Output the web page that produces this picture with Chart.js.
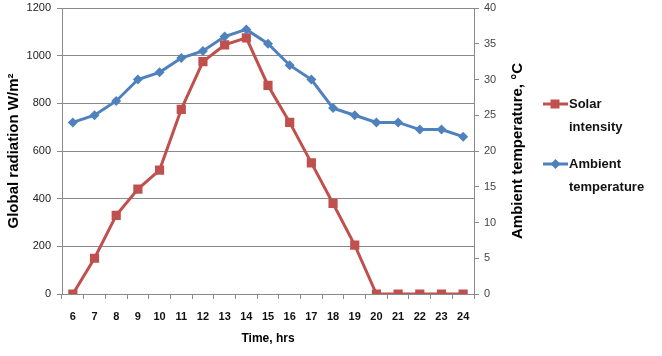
<!DOCTYPE html>
<html>
<head>
<meta charset="utf-8">
<script src="https://cdn.jsdelivr.net/npm/chart.js@4.4.0/dist/chart.umd.min.js"></script>
<style>
html, body { margin: 0; padding: 0; background: #fff; }
#chart { display: block; }
</style>
</head>
<body>
<canvas id="chart" width="662" height="356"></canvas>
<script>
// data
var hours = ['6', '7', '8', '9', '10', '11', '12', '13', '14', '15', '16', '17', '18', '19', '20', '21', '22', '23', '24'];
var solarIntensity = [0, 150, 330, 440, 520, 775, 975, 1045, 1075, 875, 720, 550, 380, 205, 0, 0, 0, 0, 0];
var ambientTemp = [24, 25, 27, 30, 31, 33, 34, 36, 37, 35, 32, 30, 26, 25, 24, 24, 23, 23, 22];
var legendLines = [['Solar', 'intensity'], ['Ambient', 'temperature']];

var RED = '#C0504D';
var BLUE = '#4F81BD';
var GRID = '#8a8a8a';
var FONT = '"Liberation Sans", Arial, sans-serif';

// right axis title (reads bottom to top) and the wrapped legend
var sideText = {
    id: 'sideText',
    afterDraw: function (chart) {
        var ctx = chart.ctx;
        var area = chart.chartArea;
        var r = chart.scales.yRight;

        ctx.save();
        ctx.translate(r.right - 12, (area.top + area.bottom) / 2);
        ctx.rotate(-Math.PI / 2);
        ctx.font = 'bold 15px ' + FONT;
        ctx.fillStyle = '#000';
        ctx.textAlign = 'center';
        ctx.textBaseline = 'middle';
        ctx.fillText('Ambient temperature, \u00B0C', 0, 0);
        ctx.restore();

        var rows = [104, 164];
        chart.data.datasets.forEach(function (ds, i) {
            var y = rows[i];
            ctx.save();
            ctx.strokeStyle = ds.borderColor;
            ctx.lineWidth = 3;
            ctx.beginPath();
            ctx.moveTo(543, y);
            ctx.lineTo(568, y);
            ctx.stroke();
            ctx.fillStyle = ds.pointBackgroundColor;
            ctx.beginPath();
            if (ds.pointStyle === 'rect') {
                ctx.rect(550.5, y - 4.5, 9, 9);
            } else {
                ctx.moveTo(555.5, y - 5);
                ctx.lineTo(560.5, y);
                ctx.lineTo(555.5, y + 5);
                ctx.lineTo(550.5, y);
                ctx.closePath();
            }
            ctx.fill();
            ctx.font = 'bold 13px ' + FONT;
            ctx.fillStyle = '#111';
            ctx.textAlign = 'left';
            ctx.textBaseline = 'middle';
            ctx.fillText(legendLines[i][0], 569, y);
            ctx.fillText(legendLines[i][1], 569, y + 23);
            ctx.restore();
        });
    }
};

var ctx = document.getElementById('chart').getContext('2d');
var chart = new Chart(ctx, {
    type: 'line',
    data: {
        labels: hours,
        datasets: [{
            label: 'Solar intensity',
            data: solarIntensity,
            yAxisID: 'y',
            borderColor: RED,
            backgroundColor: RED,
            pointBackgroundColor: RED,
            pointBorderColor: RED,
            pointStyle: 'rect',
            pointRadius: 6.5,
            pointBorderWidth: 0,
            borderWidth: 3,
            tension: 0,
            order: 2
        }, {
            label: 'Ambient temperature',
            data: ambientTemp,
            yAxisID: 'yRight',
            borderColor: BLUE,
            backgroundColor: BLUE,
            pointBackgroundColor: BLUE,
            pointBorderColor: BLUE,
            pointStyle: 'rectRot',
            pointRadius: 5,
            pointBorderWidth: 0,
            borderWidth: 3,
            tension: 0,
            order: 1
        }]
    },
    options: {
        responsive: false,
        animation: false,
        layout: { padding: { top: 8, right: 132, bottom: 0, left: 0 } },
        plugins: {
            legend: { display: false },
            tooltip: { enabled: false }
        },
        scales: {
            x: {
                offset: true,
                grid: { display: true, offset: true, drawOnChartArea: false, drawTicks: true, tickLength: 5, color: GRID },
                border: { display: true, color: GRID, width: 1 },
                ticks: { color: '#111', font: { family: FONT, size: 11, weight: 'bold' }, padding: 11, maxRotation: 0, autoSkip: false },
                title: { display: true, text: 'Time, hrs', color: '#000', font: { family: FONT, size: 12, weight: 'bold' }, padding: { top: 4, bottom: 10 } },
                afterFit: function (s) { s.height = 62; }
            },
            y: {
                position: 'left',
                min: 0,
                max: 1200,
                ticks: {
                    stepSize: 200, color: '#222', font: { family: FONT, size: 11 }, padding: 6,
                    callback: function (v) { return String(v); }
                },
                grid: { color: GRID, tickLength: 5 },
                border: { display: true, color: GRID, width: 1 },
                title: { display: true, text: 'Global radiation W/m\u00B2', color: '#000', font: { family: FONT, size: 15, weight: 'bold' }, padding: 5 },
                afterFit: function (s) { s.width = 62; s.paddingTop = 0; s.paddingBottom = 0; }
            },
            yRight: {
                position: 'right',
                min: 0,
                max: 40,
                ticks: { stepSize: 5, color: '#444', font: { family: FONT, size: 11 }, padding: 5 },
                grid: { drawOnChartArea: false, color: GRID, tickLength: 5 },
                border: { display: true, color: GRID, width: 1 },
                afterFit: function (s) { s.width = 56; s.paddingTop = 0; s.paddingBottom = 0; }
            }
        }
    },
    plugins: [sideText]
});
</script>
</body>
</html>
